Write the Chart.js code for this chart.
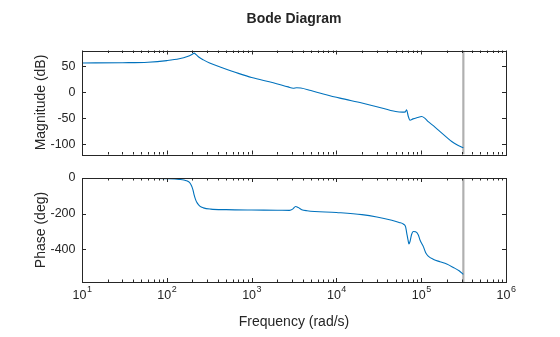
<!DOCTYPE html>
<html>
<head>
<meta charset="utf-8">
<script src="https://cdn.jsdelivr.net/npm/chart.js@4/dist/chart.umd.min.js"></script>
<style>
  body { margin: 0; background: #fff; }
  #wrap { position: relative; width: 560px; height: 337px; }
  #wrap canvas { position: absolute; left: 0; top: 0; }
</style>
</head>
<body>
<div id="wrap">
  <canvas id="magChart" width="560" height="337"></canvas>
  <canvas id="phaseChart" width="560" height="337"></canvas>
</div>
<script>
// magnitude response (rad/s, dB)
const magFreq = [10, 30, 60, 100, 140, 175, 200, 210, 222, 240, 270, 320, 450, 700, 1000, 1800, 2700, 3100, 3400, 3800, 5000, 7000, 11000, 20000, 30000, 50000, 60000, 65000, 67400, 70000, 73800, 80000, 90000, 101000, 110000, 121000, 140000, 167000, 200000, 229000, 270000, 314000];
const magDb = [56, 56.5, 57.5, 60.5, 64, 68.5, 73, 75, 72, 67, 62, 56, 47, 36, 28, 18, 10, 7.5, 8.5, 8, 3, -3.5, -11.6, -21, -28, -37.4, -38.6, -38, -34, -45, -54, -51.5, -49, -47, -50, -56.7, -65, -76, -87, -95, -102, -107];

// phase response (rad/s, deg)
const phaseFreq = [10, 40, 100, 140, 170, 185, 195, 203, 210, 218, 228, 245, 270, 330, 500, 1000, 2000, 2800, 3050, 3300, 3550, 3900, 4500, 10000, 20000, 30000, 45000, 55000, 62000, 65500, 67600, 70000, 71700, 74000, 77000, 80700, 86000, 92500, 96800, 106000, 113000, 121000, 140000, 166000, 200000, 239000, 280000, 314000];
const phaseDeg = [-0.5, -1.5, -4, -8, -15, -25, -42, -65, -95, -120, -140, -158, -168, -175, -178, -180, -181, -182, -175, -160, -166, -178, -184, -194, -206, -219, -238, -250, -260, -275, -311, -350, -371, -355, -318, -301, -303, -320, -349, -386, -420, -439, -458, -471, -484, -503, -522, -542];

// Nyquist frequency (pi / Ts, Ts = 1e-5 s)
const nyquist = Math.PI / 1e-5;

const decades = [10, 100, 1000, 10000, 100000, 1000000];
const magTicks = [-100, -50, 0, 50];
const phaseTicks = [-400, -200, 0];
const magRange = [-120, 80];
const phaseRange = [-585, 0];

const AXIS_COLOR = '#262626';
const FONT = "'Liberation Sans', Arial, Helvetica, sans-serif";

Chart.defaults.font.family = FONT;
Chart.defaults.color = AXIS_COLOR;

function points(xs, ys) {
  return xs.map((x, i) => ({ x: x, y: ys[i] }));
}

// box, inward ticks on all four sides, optional decade labels / title
function framePlugin(yTicks, showXLabels, title) {
  return {
    id: 'frame',
    afterDraw(chart) {
      const ctx = chart.ctx;
      const a = chart.chartArea;
      const xs = chart.scales.x;
      const ys = chart.scales.y;
      ctx.save();
      ctx.strokeStyle = AXIS_COLOR;
      ctx.lineWidth = 1;
      ctx.strokeRect(Math.round(a.left) + 0.5, Math.round(a.top) + 0.5,
        Math.round(a.right - a.left), Math.round(a.bottom - a.top));

      ctx.beginPath();
      decades.forEach((d, i) => {
        for (let m = 1; m <= 9; m++) {
          const v = d * m;
          if (v > 1000000 || (m > 1 && i === decades.length - 1)) continue;
          const px = Math.round(xs.getPixelForValue(v)) + 0.5;
          const len = m === 1 ? 4 : 2.5;
          ctx.moveTo(px, a.top);
          ctx.lineTo(px, a.top + len);
          ctx.moveTo(px, a.bottom);
          ctx.lineTo(px, a.bottom - len);
        }
      });
      yTicks.forEach(v => {
        const py = Math.round(ys.getPixelForValue(v)) + 0.5;
        ctx.moveTo(a.left, py);
        ctx.lineTo(a.left + 4, py);
        ctx.moveTo(a.right, py);
        ctx.lineTo(a.right - 4, py);
      });
      ctx.stroke();

      ctx.fillStyle = AXIS_COLOR;
      if (showXLabels) {
        decades.forEach(d => {
          const px = xs.getPixelForValue(d);
          const exp = String(Math.round(Math.log10(d)));
          ctx.font = '12.5px ' + FONT;
          const wBase = ctx.measureText('10').width;
          ctx.font = '9px ' + FONT;
          const wExp = ctx.measureText(exp).width;
          const x0 = px - (wBase + wExp) / 2;
          ctx.textBaseline = 'middle';
          ctx.textAlign = 'left';
          ctx.font = '12.5px ' + FONT;
          ctx.fillText('10', x0, a.bottom + 14);
          ctx.font = '9px ' + FONT;
          ctx.fillText(exp, x0 + wBase + 0.5, a.bottom + 8);
        });
      }
      if (title) {
        ctx.font = 'bold 14px ' + FONT;
        ctx.textAlign = 'center';
        ctx.textBaseline = 'middle';
        ctx.fillText(title, (a.left + a.right) / 2, 19);
      }
      ctx.restore();
    }
  };
}

function makeChart(id, cfg) {
  return new Chart(document.getElementById(id), {
    type: 'line',
    data: {
      datasets: [{
        data: points(cfg.freq, cfg.values),
        borderColor: '#0072BD',
        borderWidth: 1.1,
        pointRadius: 0,
        cubicInterpolationMode: 'monotone'
      }, {
        data: [{ x: nyquist, y: cfg.range[0] }, { x: nyquist, y: cfg.range[1] }],
        borderColor: '#b0b0b0',
        borderWidth: 2.2,
        pointRadius: 0
      }]
    },
    options: {
      responsive: false,
      animation: false,
      devicePixelRatio: 1,
      layout: { padding: cfg.padding },
      plugins: { legend: { display: false }, tooltip: { enabled: false } },
      scales: {
        x: {
          type: 'logarithmic',
          min: 10,
          max: 1000000,
          grid: { display: false },
          border: { display: false },
          ticks: { display: false },
          title: {
            display: cfg.xTitle,
            text: 'Frequency (rad/s)',
            font: { size: 14 },
            padding: { top: 0, bottom: 6.6 }
          },
          afterFit: s => { s.height = cfg.xHeight; }
        },
        y: {
          min: cfg.range[0],
          max: cfg.range[1],
          grid: { display: false, drawTicks: false },
          border: { display: false },
          afterBuildTicks: s => { s.ticks = cfg.ticks.map(v => ({ value: v })); },
          ticks: { font: { size: 12.5 }, padding: 6.5 },
          title: {
            display: true,
            text: cfg.yTitle,
            font: { size: 14 },
            padding: { top: 32.6, bottom: 0 }
          },
          afterFit: s => { s.width = 82; }
        }
      }
    },
    plugins: [framePlugin(cfg.ticks, cfg.xTitle, cfg.title)]
  });
}

const magChart = makeChart('magChart', {
  freq: magFreq, values: magDb, range: magRange, ticks: magTicks,
  yTitle: 'Magnitude (dB)', xTitle: false, xHeight: 0, title: 'Bode Diagram',
  padding: { left: 0, right: 54, top: 50.5, bottom: 182.5 }
});

const phaseChart = makeChart('phaseChart', {
  freq: phaseFreq, values: phaseDeg, range: phaseRange, ticks: phaseTicks,
  yTitle: 'Phase (deg)', xTitle: true, xHeight: 55, title: null,
  padding: { left: 0, right: 54, top: 178, bottom: 0 }
});
</script>
</body>
</html>
